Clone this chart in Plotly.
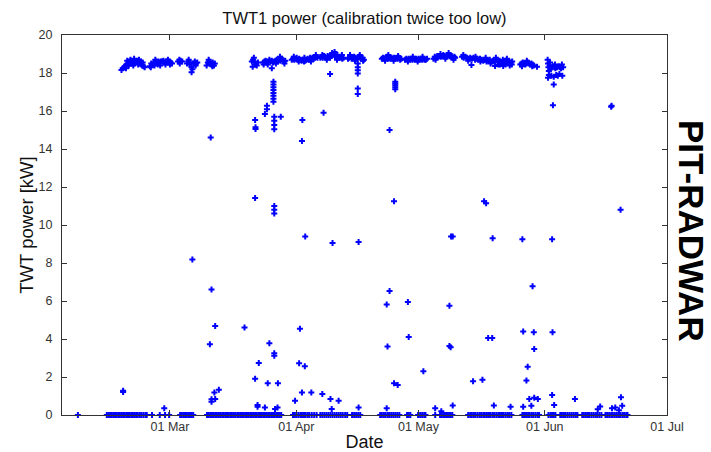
import numpy as np
import pandas as pd
import plotly.graph_objects as go

# ---- data (day-of-year 2009, power kW) ----
YEAR_START = "2009-01-01"

# normal operation band (~18.5 kW)
top_band = [
    (48.1, 18.16), (48.4, 18.25), (48.7, 18.3), (49.0, 18.35), (49.2, 18.25), (49.3, 18.45), (49.6, 18.5),
    (49.9, 18.4), (50.0, 18.6), (50.2, 18.55), (50.5, 18.5), (50.8, 18.6), (51.0, 18.4), (51.1, 18.5),
    (51.4, 18.55), (51.7, 18.6), (52.0, 18.65), (52.2, 18.45), (52.3, 18.55), (52.6, 18.5), (52.9, 18.6),
    (53.0, 18.45), (53.2, 18.4), (53.5, 18.35), (53.8, 18.3),
    (55.1, 18.35), (55.3, 18.3), (55.4, 18.5), (55.7, 18.45), (56.0, 18.55), (56.2, 18.4), (56.3, 18.5),
    (56.6, 18.6), (56.9, 18.55), (57.0, 18.45), (57.2, 18.6), (57.5, 18.55), (57.8, 18.6), (58.1, 18.6),
    (58.4, 18.65), (58.7, 18.55), (59.0, 18.6), (59.3, 18.6), (59.6, 18.55), (59.9, 18.6), (60.2, 18.55),
    (60.5, 18.5),
    (62.0, 18.6), (62.3, 18.7), (62.6, 18.65), (63.0, 18.6),
    (64.2, 18.5), (64.5, 18.6), (64.8, 18.45), (65.0, 18.55), (65.3, 18.3), (65.3, 18.04), (65.5, 18.2),
    (65.8, 18.5), (66.1, 18.6), (66.4, 18.5), (66.7, 18.55),
    (69.0, 18.4), (69.3, 18.55), (69.6, 18.6), (69.9, 18.5), (70.2, 18.45), (70.5, 18.55), (70.8, 18.4),
    (71.0, 18.5),
    (80.1, 18.6), (80.3, 18.33), (80.4, 18.7), (80.7, 18.6), (81.0, 18.45), (81.3, 18.4), (81.6, 18.55),
    (82.9, 18.55), (83.2, 18.6), (83.5, 18.65), (83.8, 18.55), (84.1, 18.6), (84.4, 18.7), (84.7, 18.6),
    (85.0, 18.65), (85.0, 18.25), (85.3, 18.55), (85.6, 18.6), (85.9, 18.65), (86.2, 18.7), (86.5, 18.6),
    (86.8, 18.7), (87.1, 18.65), (87.4, 18.75), (87.7, 18.7), (88.0, 18.6), (88.3, 18.65),
    (89.9, 18.7), (90.2, 18.75), (90.5, 18.7), (90.8, 18.75), (91.1, 18.8), (91.4, 18.7), (91.7, 18.75),
    (92.0, 18.7), (92.3, 18.65), (92.6, 18.7), (92.9, 18.6), (93.2, 18.65), (93.5, 18.7), (93.8, 18.75),
    (94.1, 18.7), (94.4, 18.8), (94.7, 18.75), (95.0, 18.8), (95.3, 18.75), (95.6, 18.8), (95.9, 18.85),
    (96.2, 18.8),
    (96.9, 18.8), (97.2, 18.85), (97.5, 18.8), (97.8, 18.9), (98.1, 18.85), (98.4, 18.8), (98.7, 18.9),
    (99.0, 18.85), (99.3, 18.8), (99.3, 17.95), (99.6, 18.9), (99.9, 18.95), (100.2, 19.0), (100.5, 18.9),
    (100.8, 18.85), (101.1, 18.95), (101.4, 18.8), (101.7, 18.85), (102.0, 18.8), (102.3, 18.75),
    (102.6, 18.8),
    (103.7, 18.75), (104.0, 18.8), (104.3, 18.85), (104.6, 18.75), (104.9, 18.8), (105.2, 18.85),
    (105.5, 18.8), (105.8, 18.75), (106.1, 18.8), (106.4, 18.85), (106.7, 18.8), (107.0, 18.75),
    (107.3, 18.8), (107.6, 18.7),
    (106.1, 18.5), (106.1, 18.3), (106.1, 18.15), (106.1, 17.98), (106.1, 17.19), (106.1, 16.9),
    (112.0, 18.75), (112.3, 18.8), (112.6, 18.75), (112.9, 18.8), (113.2, 18.85), (113.5, 18.75),
    (113.8, 18.8), (114.1, 18.75), (114.4, 18.8), (114.7, 18.75), (115.0, 18.8), (115.3, 18.75),
    (115.6, 18.8), (115.9, 18.75), (116.2, 18.8), (116.5, 18.7), (116.8, 18.75),
    (115.3, 17.54), (115.3, 17.45), (115.3, 17.35), (115.3, 17.25), (115.3, 17.14),
    (117.7, 18.7), (118.0, 18.75), (118.3, 18.7), (118.6, 18.75), (118.9, 18.7), (119.2, 18.75),
    (119.5, 18.7), (119.8, 18.75), (120.1, 18.7), (120.4, 18.75), (120.7, 18.7), (121.0, 18.75),
    (121.3, 18.7), (121.6, 18.75), (121.9, 18.7), (122.2, 18.75), (122.5, 18.7), (122.8, 18.7),
    (123.1, 18.75),
    (124.7, 18.75), (125.0, 18.85), (125.3, 18.8), (125.6, 18.9), (125.9, 18.85), (126.2, 18.9),
    (126.5, 18.85), (126.8, 18.9), (127.1, 18.95), (127.4, 18.9), (127.7, 18.85), (128.0, 18.9),
    (128.3, 18.95), (128.6, 18.9), (128.9, 18.85), (129.2, 18.9), (129.5, 18.8), (129.8, 18.85),
    (130.0, 18.8),
    (131.7, 18.85), (132.1, 18.8), (132.5, 18.85), (132.9, 18.8), (133.3, 18.75), (133.7, 18.8),
    (134.0, 18.42), (134.1, 18.75), (134.5, 18.8), (134.9, 18.7), (135.3, 18.75), (135.7, 18.7),
    (136.1, 18.75), (136.5, 18.7), (136.9, 18.65), (137.3, 18.7), (137.7, 18.6), (138.1, 18.65),
    (138.5, 18.7), (138.9, 18.6), (139.3, 18.65), (139.7, 18.6), (139.8, 18.37), (140.1, 18.7),
    (140.5, 18.6), (140.6, 18.45), (140.9, 18.65), (141.3, 18.55), (141.7, 18.7), (141.8, 18.37),
    (142.1, 18.6), (142.4, 18.45), (142.5, 18.65), (142.9, 18.55), (143.3, 18.6), (143.4, 18.4),
    (143.7, 18.55), (144.0, 18.6),
    (146.0, 18.45), (146.3, 18.5), (146.6, 18.55), (146.9, 18.5), (147.2, 18.45), (147.5, 18.5),
    (147.8, 18.55), (148.1, 18.5), (148.4, 18.45), (148.7, 18.5), (149.0, 18.45), (149.3, 18.4),
    (150.1, 18.33),
    (152.7, 18.7), (152.8, 18.5), (152.9, 18.3), (153.0, 18.1), (153.0, 17.9), (153.2, 18.4),
    (153.4, 18.2), (153.6, 17.85), (153.7, 18.3), (154.0, 18.35), (154.2, 17.8), (154.4, 18.3),
    (154.6, 18.25), (154.8, 17.9), (155.0, 18.3), (155.2, 17.85), (155.4, 18.35), (155.7, 18.3),
    (156.0, 18.25), (156.3, 17.85), (156.5, 18.3), (152.8, 17.75),
]

# additional readings that thicken the operating band
top_band_extra = [
    (49.5, 18.65), (50.3, 18.7), (51.2, 18.75), (52.4, 18.7), (53.3, 18.55),
    (56.4, 18.7), (57.6, 18.4), (58.9, 18.45), (59.5, 18.7), (60.0, 18.45),
    (62.4, 18.5), (64.6, 18.7), (66.3, 18.4), (69.5, 18.7), (70.4, 18.35),
    (80.6, 18.8), (83.0, 18.45), (84.0, 18.45), (86.0, 18.5), (87.0, 18.85), (88.1, 18.5),
    (90.4, 18.85), (91.6, 18.6), (93.0, 18.8), (94.6, 18.6), (95.8, 18.95),
    (97.4, 18.95), (98.5, 18.7), (99.8, 19.05), (100.4, 19.1), (101.0, 18.7), (102.2, 18.95),
    (104.2, 18.95), (105.4, 18.65), (106.6, 18.95), (107.4, 18.65),
    (112.8, 18.65), (113.6, 18.95), (114.9, 18.65), (116.0, 18.9),
    (118.4, 18.6), (119.6, 18.85), (120.8, 18.6), (122.0, 18.85),
    (125.2, 18.7), (126.4, 19.0), (127.6, 18.75), (128.4, 19.05), (129.6, 18.7),
    (132.0, 18.95), (133.2, 18.65), (135.0, 18.85), (136.2, 18.6), (137.5, 18.8), (138.7, 18.5),
    (140.0, 18.8), (141.0, 18.45), (142.7, 18.75), (143.9, 18.45),
    (146.4, 18.35), (147.6, 18.65), (148.9, 18.35),
    (153.3, 18.55), (154.5, 18.45), (155.6, 17.95), (156.2, 18.45),
]

# scattered intermediate readings
outliers = [
    (70.0, 14.6),
    (85.4, 17.54), (85.4, 17.4), (85.4, 17.25), (85.4, 17.1), (85.4, 16.95), (85.4, 16.8),
    (85.4, 16.65), (85.4, 16.49),
    (83.8, 16.28), (83.8, 16.09), (83.3, 15.84), (80.9, 15.53), (81.0, 15.14), (81.0, 15.05),
    (85.6, 15.7), (85.6, 15.49), (85.6, 15.26), (85.6, 15.04), (87.2, 15.7), (92.5, 15.53),
    (97.7, 15.91), (92.4, 14.42), (113.9, 15.0), (154.2, 17.4), (154.0, 16.3),
    (168.3, 16.23), (168.4, 16.28),
    (80.9, 11.42), (85.6, 11.0), (85.6, 10.8), (85.6, 10.6), (115.0, 11.25), (137.1, 11.25),
    (137.6, 11.15), (170.6, 10.8),
    (93.2, 9.4), (99.9, 9.05), (106.3, 9.1), (129.0, 9.4), (129.4, 9.4), (139.2, 9.3),
    (146.5, 9.25), (153.8, 9.25), (65.5, 8.19),
    (70.2, 6.61), (71.1, 4.68), (69.8, 3.72), (70.9, 1.19), (72.0, 1.33), (70.2, 0.83), (70.2, 0.70),
    (71.1, 0.84),
    (78.3, 4.6), (80.9, 1.91), (81.8, 2.74), (81.5, 0.53), (81.5, 0.44), (83.3, 0.4), (84.0, 1.67),
    (84.4, 3.77), (85.6, 3.25), (85.6, 3.12), (86.5, 1.67), (85.8, 0.32), (86.4, 0.4),
    (90.7, 0.75), (91.7, 2.72), (91.9, 4.54), (92.4, 1.19), (93.1, 2.56), (94.7, 1.19), (97.4, 1.1),
    (99.4, 0.84), (99.7, 0.32), (101.4, 0.75), (106.3, 0.40),
    (48.5, 1.21), (48.5, 1.27), (58.6, 0.35),
    (113.9, 6.53), (113.2, 5.81), (118.4, 5.95), (128.6, 5.75), (149.0, 6.77), (113.4, 3.61),
    (118.6, 4.1), (128.6, 3.63), (128.9, 3.56), (138.1, 4.05), (139.1, 4.05), (146.7, 4.4),
    (149.3, 4.35), (153.9, 4.35), (149.4, 3.47), (122.2, 2.3), (115.0, 1.67), (115.9, 1.58),
    (134.4, 1.77), (136.7, 1.86), (147.8, 2.54), (147.5, 1.82), (148.2, 0.84), (149.4, 0.91),
    (150.3, 0.84), (153.8, 1.05), (159.4, 0.84), (170.7, 0.93),
    (113.2, 0.35), (125.1, 0.35), (129.4, 0.5), (139.5, 0.5), (143.6, 0.44), (146.7, 0.44),
    (148.7, 0.49), (154.3, 0.53), (168.5, 0.35), (169.3, 0.4), (171.0, 0.49), (126.6, 0.2),
    (165.0, 0.3), (165.6, 0.45), (170.2, 0.25),
]

# transmitter off (0 kW)
zero_days = [
    37.4,
    44.5, 44.9, 45.3, 45.7, 46.1, 46.5, 46.9, 47.3, 47.7, 48.1, 48.5, 48.9, 49.3, 49.7, 50.1, 50.5,
    50.9, 51.3, 51.7, 52.1, 52.6, 53.0, 53.5, 54.0, 54.3,
    55.6, 57.5, 58.8, 59.8,
    62.5, 62.9, 63.3, 63.7, 64.1, 64.5, 64.9, 65.3, 65.7,
    69.1, 69.5, 69.9, 70.3, 70.7, 71.1, 71.5, 71.9, 72.3, 72.8, 73.2, 73.6, 74.0, 74.4, 74.8, 75.2,
    75.6, 76.0, 76.5, 76.9, 77.3, 77.7, 78.1, 78.5, 78.9, 79.3, 79.7, 80.1, 80.5, 80.9, 81.3, 81.7,
    82.1, 82.5, 82.9, 83.3, 83.7, 84.1, 84.5, 84.9, 85.3, 85.7, 86.1, 86.5, 86.9, 87.3,
    90.2, 90.6, 91.0, 91.5, 92.0, 92.4, 92.9, 93.3, 93.8, 94.2, 94.8, 95.4, 96.0,
    96.9, 97.4, 97.9, 98.4, 98.9, 99.4, 99.9, 100.4, 100.9, 101.4, 101.9, 102.4, 103.0, 103.5,
    104.7, 105.2, 105.7, 106.2, 106.7,
    111.6, 112.0, 112.5, 112.9, 113.4, 113.8, 114.3, 114.8, 115.3, 115.8, 116.3,
    118.2, 118.6, 119.0,
    120.9, 121.4, 121.9, 122.4, 122.7,
    125.1,
    126.3, 126.7, 127.1, 127.5, 128.0, 128.5, 128.9, 129.3,
    133.2, 133.7, 134.1, 134.6, 135.0, 135.5, 136.0, 136.4, 136.9, 137.3, 137.8, 138.3, 138.7, 139.2,
    139.6, 140.1, 140.6, 141.0, 141.5, 141.9, 142.4, 142.9, 143.3, 143.8,
    146.5, 146.9, 147.4, 147.9, 148.3, 148.8, 149.2, 149.7, 150.2, 150.6,
    152.9, 153.4, 153.8, 154.2, 154.6,
    155.8, 156.2, 156.7, 157.1, 157.6, 158.1, 158.6, 159.1, 159.6, 160.0,
    161.2, 161.6, 162.1, 162.6, 163.0, 163.5, 164.0, 164.5, 164.9, 165.4, 165.9,
    166.9, 167.3, 167.8, 168.3, 168.7, 169.2, 169.7, 170.2, 170.6, 171.1, 171.5, 172.0, 172.3,
]
zero_power = [0.0] * len(zero_days)

x_range_days = [33.5, 182.0]
tick_dates = ["2009-03-01", "2009-04-01", "2009-05-01", "2009-06-01", "2009-07-01"]
tick_labels = ["01 Mar", "01 Apr", "01 May", "01 Jun", "01 Jul"]

# ---- build ----
base = pd.Timestamp(YEAR_START)


def to_dates(days):
    return base + pd.to_timedelta(np.asarray(days, dtype=float) - 1.0, unit="D")


pairs = top_band + top_band_extra + outliers
days = [d for d, _ in pairs] + list(zero_days)
power = [v for _, v in pairs] + list(zero_power)

fig = go.Figure()
fig.add_trace(go.Scatter(
    x=to_dates(days), y=power, mode="markers",
    marker=dict(symbol="cross", size=5, color="#0000ff", line=dict(width=0)),
    cliponaxis=False, showlegend=False,
))

FONT = "Liberation Sans, Arial, sans-serif"
xr = to_dates(x_range_days)

fig.update_layout(
    width=711, height=452,
    margin=dict(l=62, r=44, t=35, b=37),
    paper_bgcolor="white", plot_bgcolor="white",
    font=dict(family=FONT, color="#222"),
    title=dict(text="TWT1 power (calibration twice too low)", x=0.5, xref="paper",
               y=1 - 18 / 452, yref="container", yanchor="middle",
               font=dict(size=16.5, color="#111", family=FONT)),
    xaxis=dict(
        type="date", range=[xr[0], xr[1]], automargin=False,
        tickvals=tick_dates, ticktext=tick_labels,
        ticks="inside", ticklen=5, tickcolor="#333", tickwidth=1,
        showline=True, linecolor="#333", linewidth=1, mirror="ticks",
        showgrid=False, zeroline=False,
        tickfont=dict(size=12.5, color="#333", family=FONT),
        title=dict(text="Date", font=dict(size=18, color="#111", family=FONT), standoff=3),
    ),
    yaxis=dict(
        range=[0, 20], tick0=0, dtick=2, automargin=False,
        ticks="inside", ticklen=5, tickcolor="#333", tickwidth=1,
        showline=True, linecolor="#333", linewidth=1, mirror="ticks",
        showgrid=False, zeroline=False,
        tickfont=dict(size=12.5, color="#333", family=FONT),
        ticklabelstandoff=6,
        title=dict(text="TWT power [kW]", font=dict(size=18.5, color="#111", family=FONT), standoff=0),
    ),
    annotations=[dict(
        text="<b>PIT-RADWAR</b>", xref="paper", yref="paper",
        x=(692 - 62) / 605, y=(415 - 231) / 380, xanchor="center", yanchor="middle",
        textangle=90, showarrow=False,
        font=dict(size=35, color="black", family=FONT),
    )],
)

fig.write_html("out.html")
